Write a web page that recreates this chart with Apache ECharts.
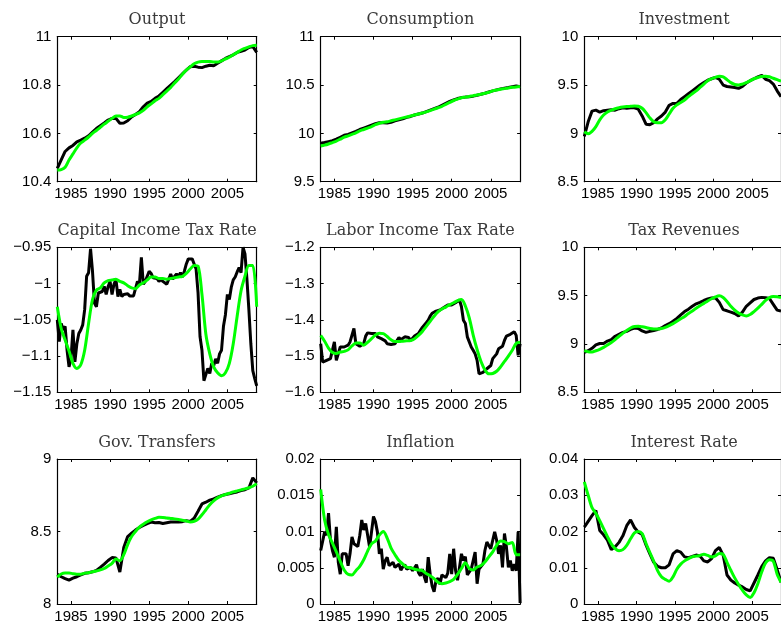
<!DOCTYPE html>
<html><head><meta charset="utf-8">
<script src="https://cdn.jsdelivr.net/npm/echarts@6/dist/echarts.min.js"></script>
<style>html,body{margin:0;padding:0;background:#fff}#c{width:781px;height:627px}</style>
</head><body><div id="c"></div>
<script>
// ---------- DATA ----------
const titles = ["Output","Consumption","Investment","Capital Income Tax Rate","Labor Income Tax Rate","Tax Revenues","Gov. Transfers","Inflation","Interest Rate"];
const xTicks = [1985,1990,1995,2000,2005];
const xMin = 1983.25, xMax = 2008.75;

const halfYears = [1983.25,1983.75,1984.25,1984.75,1985.25,1985.75,1986.25,1986.75,1987.25,1987.75,1988.25,1988.75,1989.25,1989.75,1990.25,1990.75,1991.25,1991.75,1992.25,1992.75,1993.25,1993.75,1994.25,1994.75,1995.25,1995.75,1996.25,1996.75,1997.25,1997.75,1998.25,1998.75,1999.25,1999.75,2000.25,2000.75,2001.25,2001.75,2002.25,2002.75,2003.25,2003.75,2004.25,2004.75,2005.25,2005.75,2006.25,2006.75,2007.25,2007.75,2008.25,2008.75];
const quarters = [1983.25,1983.5,1983.75,
1984,1984.25,1984.5,1984.75,1985,1985.25,1985.5,1985.75,1986,1986.25,1986.5,1986.75,1987,1987.25,1987.5,1987.75,
1988,1988.25,1988.5,1988.75,1989,1989.25,1989.5,1989.75,1990,1990.25,1990.5,1990.75,1991,1991.25,1991.5,1991.75,
1992,1992.25,1992.5,1992.75,1993,1993.25,1993.5,1993.75,1994,1994.25,1994.5,1994.75,1995,1995.25,1995.5,1995.75,
1996,1996.25,1996.5,1996.75,1997,1997.25,1997.5,1997.75,1998,1998.25,1998.5,1998.75,1999,1999.25,1999.5,1999.75,
2000,2000.25,2000.5,2000.75,2001,2001.25,2001.5,2001.75,2002,2002.25,2002.5,2002.75,2003,2003.25,2003.5,2003.75,
2004,2004.25,2004.5,2004.75,2005,2005.25,2005.5,2005.75,2006,2006.25,2006.5,2006.75,2007,2007.25,2007.5,2007.75,
2008,2008.25,2008.5,2008.75];

const outputTicks = [10.4,10.6,10.8,11];
const consumptionTicks = [9.5,10,10.5,11];
const investmentTicks = [8.5,9,9.5,10];
const capTaxTicks = [-1.15,-1.1,-1.05,-1,-0.95];
const laborTaxTicks = [-1.6,-1.5,-1.4,-1.3,-1.2];
const taxRevTicks = [8.5,9,9.5,10];
const transfersTicks = [8,8.5,9];
const inflationTicks = [0,0.005,0.01,0.015,0.02];
const interestTicks = [0,0.01,0.02,0.03,0.04];

const outputData = [10.455,10.49,10.525,10.54,10.55,10.565,10.572,10.58,10.59,10.605,10.62,10.632,10.643,10.655,10.662,10.662,10.642,10.643,10.652,10.668,10.678,10.69,10.71,10.725,10.732,10.745,10.755,10.77,10.785,10.8,10.814,10.83,10.846,10.862,10.876,10.878,10.874,10.872,10.878,10.882,10.88,10.89,10.9,10.91,10.918,10.925,10.935,10.94,10.945,10.955,10.96,10.935];
const outputModel = [10.448,10.45,10.46,10.49,10.515,10.54,10.56,10.572,10.585,10.6,10.612,10.625,10.638,10.65,10.662,10.672,10.672,10.666,10.667,10.672,10.678,10.685,10.695,10.71,10.722,10.735,10.745,10.76,10.775,10.79,10.808,10.825,10.845,10.862,10.875,10.888,10.895,10.897,10.897,10.897,10.895,10.895,10.9,10.908,10.915,10.925,10.935,10.945,10.952,10.958,10.963,10.965];

const consumptionData = [9.897,9.905,9.915,9.925,9.94,9.96,9.98,9.99,10.005,10.02,10.04,10.055,10.07,10.085,10.1,10.11,10.11,10.108,10.115,10.13,10.14,10.15,10.165,10.175,10.19,10.2,10.21,10.225,10.24,10.255,10.27,10.29,10.31,10.33,10.345,10.36,10.37,10.375,10.378,10.385,10.395,10.405,10.415,10.428,10.44,10.45,10.46,10.468,10.475,10.483,10.49,10.482];
const consumptionModel = [9.869,9.878,9.89,9.905,9.92,9.94,9.96,9.975,9.99,10.005,10.025,10.04,10.055,10.07,10.09,10.105,10.115,10.12,10.13,10.14,10.15,10.16,10.17,10.18,10.19,10.2,10.21,10.222,10.235,10.25,10.265,10.28,10.3,10.32,10.34,10.355,10.368,10.375,10.382,10.39,10.397,10.405,10.415,10.425,10.44,10.448,10.456,10.463,10.47,10.476,10.48,10.485];

const investmentData = [8.97,9.12,9.23,9.24,9.22,9.235,9.24,9.245,9.24,9.255,9.265,9.26,9.265,9.265,9.25,9.18,9.095,9.09,9.11,9.15,9.18,9.22,9.29,9.31,9.31,9.35,9.38,9.41,9.44,9.47,9.5,9.525,9.55,9.565,9.58,9.56,9.5,9.485,9.48,9.475,9.465,9.485,9.52,9.545,9.565,9.585,9.6,9.56,9.545,9.51,9.44,9.38];
const investmentModel = [9.017,8.995,9.02,9.07,9.14,9.19,9.22,9.24,9.255,9.265,9.272,9.277,9.28,9.283,9.28,9.26,9.215,9.16,9.12,9.11,9.11,9.14,9.2,9.26,9.295,9.32,9.345,9.38,9.41,9.44,9.475,9.51,9.545,9.565,9.58,9.592,9.585,9.555,9.525,9.505,9.5,9.51,9.525,9.545,9.565,9.578,9.588,9.592,9.585,9.57,9.555,9.54];

const capTaxData = [-1.050,-1.080,-1.055,-1.064,-1.059,-1.092,-1.115,-1.104,-1.064,-1.108,-1.083,-1.069,-1.064,-1.057,-1.036,-0.990,-0.985,-0.952,-0.983,-1.027,-1.032,-1.013,-1.013,-1.011,-1.004,-1.015,-1.004,-0.997,-1.015,-1.001,-0.994,-1.018,-1.008,-1.018,-1.015,-1.017,-1.014,-1.017,-1.015,-1.017,-1.018,-0.997,-1.001,-0.964,-1.001,-0.997,-0.990,-0.983,-0.986,-0.992,-0.990,-0.993,-0.997,-0.994,-0.997,-0.998,-1.001,-1.003,-0.987,-0.994,-0.990,-0.987,-0.990,-0.985,-0.991,-0.983,-0.973,-0.966,-0.964,-0.966,-0.973,-0.980,-1.013,-1.073,-1.092,-1.134,-1.135,-1.117,-1.124,-1.110,-1.113,-1.104,-1.110,-1.097,-1.092,-1.059,-1.043,-1.015,-1.022,-1.005,-0.995,-0.991,-0.984,-0.978,-0.985,-0.950,-0.959,-0.994,-1.036,-1.083,-1.120,-1.131,-1.141];
const capTaxModel = [-1.032,-1.062,-1.078,-1.093,-1.110,-1.117,-1.112,-1.092,-1.055,-1.022,-1.009,-1.006,-0.999,-0.996,-0.995,-0.994,-0.997,-0.999,-1.003,-1.006,-1.007,-1.002,-0.999,-0.995,-0.991,-0.991,-0.993,-0.993,-0.994,-0.993,-0.992,-0.991,-0.990,-0.986,-0.980,-0.975,-0.976,-1.015,-1.070,-1.097,-1.115,-1.123,-1.127,-1.123,-1.110,-1.083,-1.045,-1.010,-0.990,-0.975,-0.975,-1.032];

const laborTaxData = [-1.466,-1.517,-1.517,-1.512,-1.510,-1.507,-1.503,-1.461,-1.512,-1.517,-1.475,-1.475,-1.475,-1.475,-1.470,-1.461,-1.466,-1.424,-1.466,-1.461,-1.473,-1.475,-1.466,-1.445,-1.436,-1.438,-1.438,-1.440,-1.438,-1.447,-1.452,-1.452,-1.455,-1.458,-1.466,-1.466,-1.468,-1.470,-1.466,-1.468,-1.449,-1.455,-1.458,-1.447,-1.452,-1.449,-1.457,-1.457,-1.445,-1.440,-1.438,-1.429,-1.421,-1.417,-1.408,-1.401,-1.390,-1.382,-1.379,-1.376,-1.373,-1.373,-1.371,-1.366,-1.364,-1.359,-1.359,-1.359,-1.356,-1.353,-1.349,-1.345,-1.364,-1.401,-1.410,-1.447,-1.461,-1.475,-1.484,-1.494,-1.512,-1.549,-1.554,-1.545,-1.540,-1.535,-1.535,-1.526,-1.507,-1.503,-1.494,-1.480,-1.475,-1.473,-1.457,-1.445,-1.443,-1.440,-1.436,-1.433,-1.443,-1.498,-1.466];
const laborTaxModel = [-1.443,-1.459,-1.478,-1.490,-1.493,-1.489,-1.487,-1.483,-1.472,-1.464,-1.464,-1.470,-1.462,-1.452,-1.442,-1.437,-1.438,-1.446,-1.455,-1.460,-1.460,-1.459,-1.458,-1.457,-1.452,-1.443,-1.432,-1.418,-1.404,-1.390,-1.378,-1.370,-1.365,-1.358,-1.353,-1.347,-1.344,-1.362,-1.395,-1.442,-1.482,-1.515,-1.538,-1.549,-1.548,-1.542,-1.530,-1.515,-1.500,-1.484,-1.465,-1.462];

const taxRevData = [8.914,8.93,8.955,8.99,9.005,9.005,9.03,9.045,9.08,9.1,9.12,9.13,9.15,9.165,9.16,9.135,9.12,9.13,9.14,9.15,9.165,9.19,9.21,9.235,9.265,9.3,9.335,9.36,9.39,9.415,9.43,9.45,9.465,9.475,9.478,9.43,9.355,9.343,9.33,9.315,9.29,9.33,9.39,9.425,9.46,9.475,9.482,9.478,9.47,9.41,9.35,9.34];
const taxRevModel = [8.931,8.92,8.918,8.93,8.945,8.965,8.99,9.015,9.045,9.08,9.11,9.14,9.165,9.18,9.183,9.178,9.17,9.16,9.155,9.155,9.16,9.172,9.19,9.21,9.235,9.26,9.285,9.315,9.34,9.37,9.395,9.42,9.445,9.468,9.487,9.498,9.48,9.44,9.39,9.35,9.32,9.3,9.29,9.305,9.335,9.37,9.41,9.45,9.48,9.492,9.488,9.48];

const transfersData = [8.205,8.188,8.175,8.165,8.178,8.188,8.2,8.212,8.215,8.222,8.232,8.252,8.275,8.3,8.32,8.318,8.22,8.39,8.465,8.488,8.51,8.528,8.542,8.555,8.565,8.56,8.562,8.555,8.56,8.565,8.565,8.565,8.568,8.575,8.57,8.592,8.64,8.69,8.702,8.716,8.725,8.737,8.747,8.755,8.76,8.767,8.773,8.782,8.788,8.8,8.87,8.835];
const transfersModel = [8.186,8.207,8.214,8.214,8.209,8.206,8.206,8.213,8.216,8.222,8.228,8.235,8.245,8.262,8.28,8.31,8.298,8.34,8.41,8.465,8.5,8.53,8.55,8.567,8.58,8.59,8.598,8.597,8.593,8.59,8.587,8.583,8.578,8.573,8.566,8.57,8.585,8.615,8.65,8.685,8.712,8.732,8.746,8.755,8.764,8.773,8.78,8.787,8.794,8.802,8.812,8.83];

const inflationData = [0.00738,0.00715,0.00995,0.00949,0.01252,0.00879,0.00738,0.00645,0.01065,0.00575,0.00411,0.00692,0.00692,0.00692,0.00528,0.00692,0.00925,0.00832,0.00832,0.00794,0.00949,0.01159,0.01020,0.01112,0.01112,0.00785,0.00995,0.01206,0.01136,0.00995,0.00692,0.00762,0.00481,0.00598,0.00645,0.00528,0.00505,0.00575,0.00505,0.00505,0.00551,0.00467,0.00514,0.00542,0.00481,0.00505,0.00505,0.00458,0.00458,0.00542,0.00435,0.00388,0.00481,0.00374,0.00294,0.00645,0.00411,0.00248,0.00168,0.00327,0.00355,0.00271,0.00402,0.00383,0.00364,0.00425,0.00692,0.00411,0.00762,0.00458,0.00327,0.00505,0.00692,0.00598,0.00654,0.00402,0.00388,0.00481,0.00598,0.00715,0.00280,0.00481,0.00505,0.00551,0.00738,0.00855,0.00808,0.00762,0.00785,0.00995,0.00879,0.00692,0.00808,0.00505,0.00972,0.00785,0.00505,0.00598,0.00458,0.00551,0.00458,0.00995,0.00014];
const inflationModel = [0.0158,0.0116,0.0096,0.0084,0.0072,0.0059,0.0047,0.0041,0.0040,0.0046,0.0052,0.0061,0.0073,0.0083,0.0087,0.0095,0.0100,0.0091,0.0077,0.0068,0.0060,0.0055,0.0051,0.0050,0.0048,0.0047,0.0046,0.0042,0.0039,0.0035,0.0030,0.0028,0.0029,0.0031,0.0034,0.0041,0.0049,0.0057,0.0049,0.0047,0.0051,0.0053,0.0058,0.0065,0.0072,0.0081,0.0087,0.0086,0.0083,0.0085,0.0068,0.0068];

const interestData = [0.0212,0.0228,0.0244,0.0258,0.0203,0.0191,0.0176,0.0150,0.0158,0.0170,0.0188,0.0216,0.0232,0.0211,0.0198,0.0192,0.0163,0.0138,0.0115,0.0104,0.0100,0.0100,0.0108,0.0138,0.0147,0.0143,0.0130,0.0128,0.0131,0.0135,0.0132,0.0119,0.0116,0.0125,0.0147,0.0156,0.0135,0.0080,0.0066,0.0058,0.0052,0.0047,0.0040,0.0036,0.0058,0.0080,0.0103,0.0119,0.0128,0.0126,0.0095,0.0060];
const interestModel = [0.0337,0.0300,0.0266,0.0250,0.0230,0.0208,0.0186,0.0166,0.0153,0.0147,0.0150,0.0162,0.0180,0.0196,0.0200,0.0194,0.0167,0.0142,0.0118,0.0092,0.0075,0.0068,0.0063,0.0075,0.0096,0.0110,0.0119,0.0125,0.0130,0.0132,0.0134,0.0137,0.0134,0.0130,0.0133,0.0139,0.0137,0.0115,0.0093,0.0072,0.0054,0.0038,0.0025,0.0018,0.0031,0.0056,0.0088,0.0113,0.0122,0.0118,0.0082,0.0060];

// ---------- PANELS ----------
const panels = [
  {ticks: outputTicks,      dataX: halfYears, data: outputData,      model: outputModel},
  {ticks: consumptionTicks, dataX: halfYears, data: consumptionData, model: consumptionModel},
  {ticks: investmentTicks,  dataX: halfYears, data: investmentData,  model: investmentModel},
  {ticks: capTaxTicks,      dataX: quarters,  data: capTaxData,      model: capTaxModel},
  {ticks: laborTaxTicks,    dataX: quarters,  data: laborTaxData,    model: laborTaxModel},
  {ticks: taxRevTicks,      dataX: halfYears, data: taxRevData,      model: taxRevModel},
  {ticks: transfersTicks,   dataX: halfYears, data: transfersData,   model: transfersModel},
  {ticks: inflationTicks,   dataX: quarters,  data: inflationData,   model: inflationModel},
  {ticks: interestTicks,    dataX: halfYears, data: interestData,    model: interestModel}
];

// ---------- LAYOUT ----------
const colLeft = [57.3, 320.7, 584.3];
const rowTop = [36.7, 247.3, 459];
const plotW = 199.4, plotH = 145;
const labelFont = {color:'#000', fontFamily:"'Liberation Sans', Arial, Helvetica, sans-serif", fontSize:15};
const fmt = v => String(+Number(v).toFixed(6)).replace('-', '\u2212');
const zip = (xs, ys) => xs.map((x, i) => [x, ys[i]]);

const grid = [], xAxis = [], yAxis = [], series = [], graphic = [];
panels.forEach((p, i) => {
  const r = Math.floor(i / 3), c = i % 3;
  grid.push({left: colLeft[c], top: rowTop[r], width: plotW, height: plotH, show: false, containLabel: false});
  const yMin = p.ticks[0], yMax = p.ticks[p.ticks.length - 1];
  const line = {show: true, onZero: false, lineStyle: {color: '#000', width: 1.2}};
  const tick = (vals) => ({show: true, inside: true, length: 3, customValues: vals, lineStyle: {color: '#000', width: 1}});
  xAxis.push({type:'value', gridIndex:i, min:xMin, max:xMax, position:'bottom', axisLine: line, axisTick: tick(xTicks),
    axisLabel:{show:true, customValues:xTicks, margin:5, formatter: v => String(v), ...labelFont}, splitLine:{show:false}});
  xAxis.push({type:'value', gridIndex:i, min:xMin, max:xMax, position:'top', axisLine: line, axisTick: tick(xTicks),
    axisLabel:{show:false}, splitLine:{show:false}});
  yAxis.push({type:'value', gridIndex:i, min:yMin, max:yMax, position:'left', axisLine: line, axisTick: tick(p.ticks),
    axisLabel:{show:true, customValues:p.ticks, margin:6, formatter: fmt, ...labelFont}, splitLine:{show:false}});
  yAxis.push({type:'value', gridIndex:i, min:yMin, max:yMax, position:'right', axisLine: line, axisTick: tick(p.ticks),
    axisLabel:{show:false}, splitLine:{show:false}});
  series.push({type:'line', xAxisIndex: 2*i, yAxisIndex: 2*i, data: zip(p.dataX, p.data), symbol:'none',
    lineStyle:{color:'#000', width:3}, z: 2, animation:false});
  series.push({type:'line', xAxisIndex: 2*i, yAxisIndex: 2*i, data: zip(halfYears, p.model), symbol:'none', smooth: 0.3,
    lineStyle:{color:'#00ff00', width:3}, z: 3, animation:false});
  graphic.push({type:'text', x: colLeft[c] + plotW / 2, y: rowTop[r] - 16.5, z: 10,
    style:{text: titles[i], fill:'#3a3a3a', fontFamily:"'DejaVu Serif', serif", fontSize:16, textAlign:'center', textVerticalAlign:'middle', verticalAlign:'middle'}});
});

const chart = echarts.init(document.getElementById('c'), null, {renderer:'canvas'});
chart.setOption({animation:false, backgroundColor:'#fff', grid, xAxis, yAxis, series, graphic});
</script>
</body></html>
